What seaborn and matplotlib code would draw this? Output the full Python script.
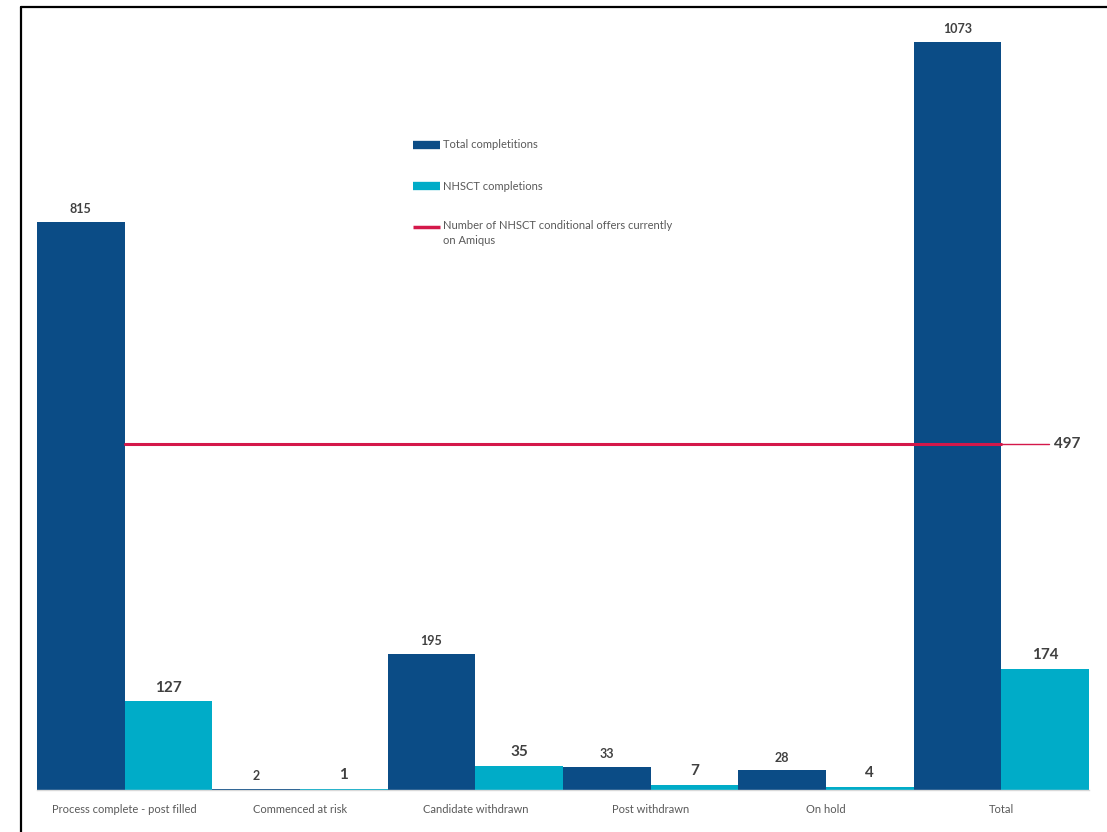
import matplotlib
matplotlib.use("Agg")
import matplotlib.pyplot as plt
from matplotlib.lines import Line2D
import seaborn as sns
import pandas as pd

categories = ["Process complete - post filled", "Commenced at risk", "Candidate withdrawn",
              "Post withdrawn", "On hold", "Total"]
total_completions = [815, 2, 195, 33, 28, 1073]
nhsct_completions = [127, 1, 35, 7, 4, 174]
offers = [497, 497, 497, 497, 497, 497]
series_names = ["Total completitions", "NHSCT completions",
                "Number of NHSCT conditional offers currently\non Amiqus"]

DARK = "#0B4C86"
CYAN = "#00ACC8"
RED = "#D4184A"
TXT = "#404040"
GRAY = "#595959"

sns.set_theme(style="white")
plt.rcParams["font.family"] = ["Lato", "DejaVu Sans"]

df = pd.DataFrame({
    "category": categories * 2,
    "value": total_completions + nhsct_completions,
    "series": [series_names[0]] * len(categories) + [series_names[1]] * len(categories),
})

W, H = 1107, 832
fig = plt.figure(figsize=(W / 100, H / 100), dpi=100)
ax = fig.add_axes([37 / W, 1 - 790 / H, (1089 - 37) / W, (790 - 20) / H])

sns.barplot(data=df, x="category", y="value", hue="series", order=categories,
            hue_order=series_names[:2], palette=[DARK, CYAN], width=1.0, gap=0,
            dodge=True, legend=False, ax=ax, saturation=1, errorbar=None, linewidth=0)

# value labels
for i, cont in enumerate(ax.containers):
    size = 9 if i == 0 else 11
    vals = total_completions if i == 0 else nhsct_completions
    ax.bar_label(cont, labels=[str(v) for v in vals],
                 padding=5, fontsize=size, fontweight="bold", color=TXT)

# red line
sns.lineplot(x=categories, y=offers, color=RED, linewidth=2.2, ax=ax, zorder=5)
ax.plot([5, 5.27], [offers[-1], offers[-1]], color=RED, linewidth=1.0, zorder=5)
ax.text(5.3, offers[-1], str(offers[-1]), fontsize=11, fontweight="bold", color=TXT,
        va="center", ha="left")

ax.set_ylim(0, 770 / (748 / 1073))
ax.set_xlim(-0.5, 5.5)
ax.set_xlabel("")
ax.set_ylabel("")
ax.set_yticks([])
for s in ["top", "right", "left"]:
    ax.spines[s].set_visible(False)
ax.spines["bottom"].set_color("#D9D9D9")
ax.spines["bottom"].set_linewidth(1)
ax.tick_params(axis="x", which="major", length=0, labelsize=8, labelcolor=GRAY, pad=10)
ax.set_xticks([x - 0.5 for x in range(7)], minor=True)
ax.tick_params(axis="x", which="minor", length=4, color="#D9D9D9", width=1)


def fx(px):
    return px / W


def fy(py):
    return 1 - py / H


# manual legend in figure pixels
legend_items = [(series_names[0], DARK, 6, 145), (series_names[1], CYAN, 6, 186),
                (series_names[2], RED, 2.5, 227)]
for label, col, lw, py in legend_items:
    fig.add_artist(Line2D([fx(413), fx(440)], [fy(py), fy(py)], color=col, linewidth=lw,
                          solid_capstyle="butt", transform=fig.transFigure))
    if "\n" in label:
        fig.text(fx(443), fy(py - 7), label, fontsize=8, color=GRAY, va="top", ha="left",
                 linespacing=1.5)
    else:
        fig.text(fx(443), fy(py), label, fontsize=8, color=GRAY, va="center", ha="left")

# frame (top and left edges visible)
fig.add_artist(Line2D([fx(21), fx(21)], [fy(7), 0], color="black", linewidth=1.6,
                      transform=fig.transFigure))
fig.add_artist(Line2D([fx(21), 1], [fy(7), fy(7)], color="black", linewidth=1.6,
                      transform=fig.transFigure))

fig.savefig("out.png", dpi=100)
